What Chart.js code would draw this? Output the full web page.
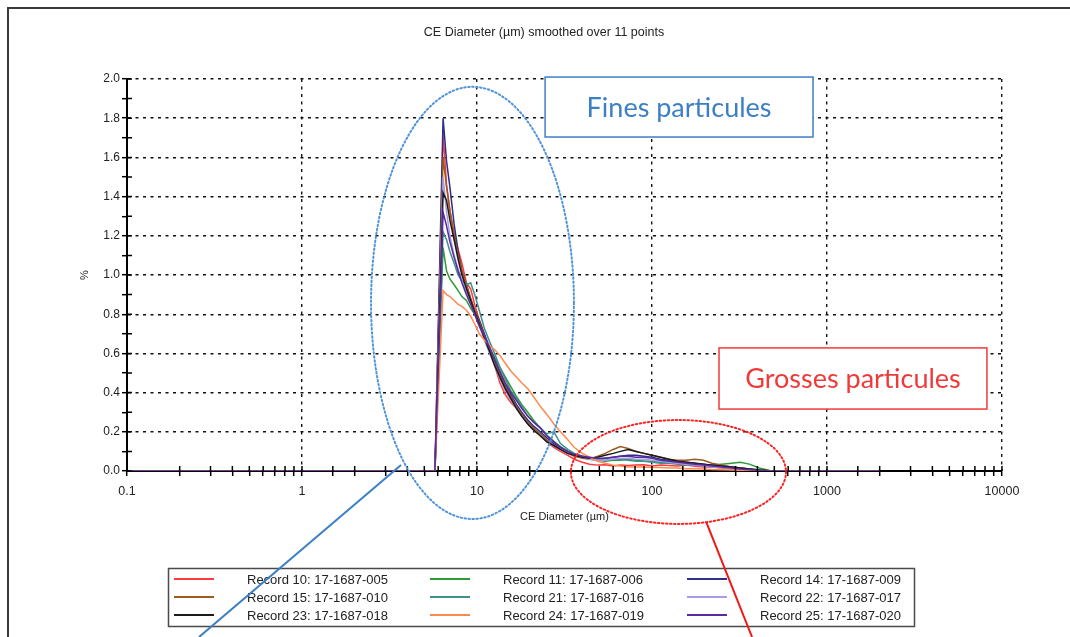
<!DOCTYPE html>
<html><head><meta charset="utf-8">
<script src="https://cdn.jsdelivr.net/npm/chart.js@4"></script>
<style>html,body{margin:0;padding:0;background:#fff}#wrap{width:1070px;height:637px;position:relative;overflow:hidden}</style>
</head><body><div id="wrap"><canvas id="c" width="1070" height="637"></canvas></div>
<script>
// CE Diameter (µm) sample points
const diameters = [0.1, 5.75, 6.4, 6.7, 7.0, 7.4, 7.8, 8.2, 8.7, 9.2, 9.7, 10.3, 11, 11.8, 12.6, 13.5, 14.5, 15.6, 16.8, 18, 19.5, 21, 23, 25, 27.5, 30, 33, 36, 40, 44, 49, 54, 60, 66, 73, 81, 90, 100, 112, 125, 140, 157, 176, 197, 220, 250, 285, 320, 360, 410, 470, 540, 2000];

const rec10 = [0,0,1.72,1.46,1.33,1.21,1.13,1.06,0.96,0.93,0.85,0.77,0.70,0.62,0.54,0.45,0.39,0.35,0.32,0.28,0.25,0.22,0.18,0.15,0.12,0.10,0.08,0.06,0.045,0.035,0.03,0.032,0.025,0.03,0.028,0.03,0.032,0.026,0.03,0.028,0.025,0.03,0.024,0.02,0.02,0.015,0.01,0.008,0.005,0.002,0,0,0];
const rec11 = [0,0,1.14,1.02,0.98,0.95,0.92,0.89,0.87,0.83,0.80,0.75,0.69,0.63,0.58,0.53,0.48,0.43,0.38,0.34,0.30,0.26,0.22,0.185,0.15,0.125,0.10,0.085,0.07,0.06,0.055,0.05,0.055,0.055,0.06,0.055,0.05,0.05,0.045,0.04,0.04,0.035,0.035,0.03,0.03,0.035,0.04,0.045,0.035,0.015,0.003,0,0];
const rec14 = [0,0,1.80,1.58,1.45,1.26,1.12,1.02,0.95,0.88,0.82,0.77,0.70,0.63,0.56,0.50,0.44,0.39,0.34,0.30,0.26,0.23,0.20,0.17,0.14,0.12,0.10,0.085,0.075,0.065,0.06,0.065,0.07,0.075,0.08,0.08,0.075,0.07,0.06,0.055,0.05,0.045,0.04,0.035,0.03,0.025,0.02,0.015,0.01,0.005,0.001,0,0];
const rec15 = [0,0,1.60,1.45,1.33,1.20,1.10,1.02,0.95,0.88,0.82,0.76,0.69,0.62,0.55,0.49,0.43,0.38,0.33,0.29,0.25,0.22,0.19,0.16,0.13,0.11,0.09,0.075,0.065,0.06,0.075,0.09,0.11,0.125,0.115,0.10,0.09,0.08,0.07,0.06,0.055,0.055,0.06,0.055,0.04,0.03,0.02,0.015,0.01,0.004,0.001,0,0];
const rec21 = [0,0,1.22,1.18,1.12,1.06,1.00,0.97,0.95,0.96,0.90,0.82,0.73,0.66,0.60,0.53,0.47,0.41,0.37,0.33,0.28,0.25,0.22,0.19,0.20,0.14,0.11,0.09,0.075,0.065,0.06,0.055,0.06,0.06,0.055,0.05,0.05,0.045,0.04,0.04,0.035,0.03,0.03,0.025,0.02,0.02,0.015,0.01,0.007,0.003,0,0,0];
const rec22 = [0,0,1.50,1.32,1.20,1.10,1.03,0.97,0.91,0.86,0.80,0.74,0.67,0.60,0.54,0.47,0.41,0.36,0.32,0.28,0.24,0.21,0.18,0.15,0.13,0.11,0.09,0.08,0.07,0.06,0.055,0.055,0.06,0.065,0.065,0.06,0.06,0.055,0.05,0.045,0.04,0.035,0.03,0.025,0.02,0.017,0.013,0.01,0.006,0.003,0,0,0];
const rec23 = [0,0,1.42,1.38,1.28,1.18,1.08,1.00,0.93,0.87,0.81,0.75,0.68,0.61,0.54,0.48,0.42,0.37,0.32,0.28,0.24,0.21,0.18,0.15,0.13,0.11,0.09,0.08,0.07,0.065,0.07,0.08,0.09,0.10,0.11,0.10,0.09,0.08,0.07,0.06,0.05,0.045,0.04,0.035,0.03,0.025,0.02,0.015,0.01,0.005,0.001,0,0];
const rec24 = [0,0,0.92,0.90,0.89,0.87,0.85,0.84,0.82,0.79,0.75,0.70,0.67,0.64,0.62,0.59,0.55,0.51,0.48,0.45,0.42,0.38,0.33,0.29,0.24,0.20,0.16,0.12,0.09,0.07,0.05,0.04,0.03,0.025,0.02,0.02,0.02,0.018,0.018,0.015,0.015,0.012,0.012,0.01,0.008,0.006,0.005,0.003,0.002,0.001,0,0,0];
const rec25 = [0,0,1.32,1.25,1.17,1.09,1.02,0.96,0.90,0.85,0.80,0.74,0.69,0.63,0.57,0.51,0.45,0.40,0.36,0.32,0.28,0.25,0.22,0.18,0.15,0.12,0.10,0.085,0.075,0.07,0.065,0.065,0.07,0.075,0.075,0.07,0.07,0.065,0.055,0.05,0.045,0.04,0.035,0.03,0.025,0.02,0.015,0.01,0.007,0.003,0,0,0];

const seriesLabels = ['Record 10: 17-1687-005','Record 11: 17-1687-006','Record 14: 17-1687-009',
                      'Record 15: 17-1687-010','Record 21: 17-1687-016','Record 22: 17-1687-017',
                      'Record 23: 17-1687-018','Record 24: 17-1687-019','Record 25: 17-1687-020'];
const seriesValues = [rec10, rec11, rec14, rec15, rec21, rec22, rec23, rec24, rec25];
const xTickLabels = ['0.1','1','10','100','1000','10000'];
const yTickLabels = ['0.0','0.2','0.4','0.6','0.8','1.0','1.2','1.4','1.6','1.8','2.0'];

// styling (kept apart from data)
const seriesColors = ['#ff3b3b','#2f9a3a','#2e2e8c','#9c5a1e','#3f8f8f','#a99be6','#1a1a1a','#ff8a4d','#5a2aa0'];

// annotations in data coordinates (µm, %)
const fineEllipse = {x0: 2.48, x1: 35.8, y0: -0.245, y1: 1.96};
const coarseEllipse = {x0: 34.4, x1: 583, y0: -0.27, y1: 0.26};
const fineBox = {x0: 24.5, x1: 832, y0: 1.704, y1: 2.01, text: 'Fines particules'};
const coarseBox = {x0: 241.5, x1: 8200, y0: 0.316, y1: 0.628, text: 'Grosses particules'};
const fineArrow = {x0: 3.68, y0: 0.031, x1: 0.258, y1: -0.847};
const coarseArrow = {x0: 204, y0: -0.26, x1: 373, y1: -0.847};

const FONT = '"Liberation Sans", Arial, sans-serif';
const isDecade = v => { const l = Math.log10(v); return Math.abs(l - Math.round(l)) < 1e-6; };
const isEvenTenth = v => Math.round(v * 10) % 2 === 0;

const datasets = seriesValues.map((vals, k) => ({
  label: seriesLabels[k],
  data: diameters.map((d, i) => ({x: d, y: vals[i]})),
  borderColor: seriesColors[k],
  backgroundColor: seriesColors[k],
  borderWidth: 1.5,
  pointRadius: 0,
  tension: 0,
  fill: false,
  order: seriesValues.length - k
}));

const framePlugin = {
  id: 'frame',
  beforeDraw(chart) {
    const ctx = chart.ctx;
    ctx.save();
    ctx.fillStyle = '#fff';
    ctx.fillRect(0, 0, chart.width, chart.height);
    ctx.strokeStyle = '#3a3a3a';
    ctx.lineWidth = 2;
    ctx.beginPath();
    ctx.moveTo(8, chart.height); ctx.lineTo(8, 8); ctx.lineTo(chart.width, 8);
    ctx.stroke();
    ctx.restore();
  }
};

const innerTicksPlugin = {
  id: 'innerTicks',
  afterDatasetsDraw(chart) {
    const {ctx, chartArea: a} = chart;
    const xs = chart.scales.x, ys = chart.scales.y;
    ctx.save();
    ctx.strokeStyle = '#000';
    ctx.lineWidth = 1.5;
    ctx.beginPath();
    xs.ticks.forEach(t => { const p = xs.getPixelForValue(t.value); ctx.moveTo(p, a.bottom); ctx.lineTo(p, a.bottom - 5); });
    ys.ticks.forEach(t => { const p = ys.getPixelForValue(t.value); ctx.moveTo(a.left, p); ctx.lineTo(a.left + 5, p); });
    ctx.stroke();
    ctx.restore();
  }
};

const legendPlugin = {
  id: 'boxLegend',
  afterDraw(chart) {
    const ctx = chart.ctx;
    const colX = [174, 430, 687], rowY = [579, 597, 615];
    ctx.save();
    ctx.strokeStyle = '#4a4a4a';
    ctx.lineWidth = 1.5;
    ctx.strokeRect(168.5, 568.5, 746, 58);
    ctx.font = '13px ' + FONT;
    ctx.textBaseline = 'middle';
    ctx.fillStyle = '#222';
    chart.data.datasets.forEach((ds, i) => {
      const x = colX[i % 3], y = rowY[Math.floor(i / 3)];
      ctx.strokeStyle = ds.borderColor;
      ctx.lineWidth = 2;
      ctx.beginPath(); ctx.moveTo(x, y); ctx.lineTo(x + 40, y); ctx.stroke();
      ctx.fillText(ds.label, x + 73, y + 1);
    });
    ctx.restore();
  }
};

const annotationPlugin = {
  id: 'notes',
  afterDraw(chart) {
    const ctx = chart.ctx;
    const xs = chart.scales.x, ys = chart.scales.y;
    const px = v => xs.getPixelForValue(v), py = v => ys.getPixelForValue(v);
    const ellipse = (e, color) => {
      const l = px(e.x0), r = px(e.x1), t = py(e.y1), b = py(e.y0);
      ctx.save();
      ctx.strokeStyle = color; ctx.lineWidth = 2; ctx.setLineDash([1.5, 2.5]); ctx.lineCap = 'round';
      ctx.beginPath();
      ctx.ellipse((l + r) / 2, (t + b) / 2, (r - l) / 2, (b - t) / 2, 0, 0, Math.PI * 2);
      ctx.stroke();
      ctx.restore();
    };
    const box = (bx, color) => {
      const l = px(bx.x0), r = px(bx.x1), t = py(bx.y1), b = py(bx.y0);
      ctx.save();
      ctx.fillStyle = '#fff';
      ctx.fillRect(l, t, r - l, b - t);
      ctx.strokeStyle = color; ctx.lineWidth = 1.5;
      ctx.strokeRect(l, t, r - l, b - t);
      ctx.fillStyle = color;
      ctx.font = '27px Lato, "Open Sans", sans-serif';
      ctx.textAlign = 'center'; ctx.textBaseline = 'middle';
      ctx.fillText(bx.text, (l + r) / 2, (t + b) / 2 + 1);
      ctx.restore();
    };
    const arrow = (ln, color) => {
      ctx.save();
      ctx.strokeStyle = color; ctx.lineWidth = 2;
      ctx.beginPath(); ctx.moveTo(px(ln.x0), py(ln.y0)); ctx.lineTo(px(ln.x1), py(ln.y1)); ctx.stroke();
      ctx.restore();
    };
    box(fineBox, '#3d7fc6');
    box(coarseBox, '#f03a3a');
    ellipse(fineEllipse, '#4f93d8');
    ellipse(coarseEllipse, '#f22');
    arrow(fineArrow, '#3b7fc4');
    arrow(coarseArrow, '#f01818');
  }
};

new Chart(document.getElementById('c'), {
  type: 'line',
  data: {datasets},
  plugins: [framePlugin, innerTicksPlugin, legendPlugin, annotationPlugin],
  options: {
    responsive: false,
    animation: false,
    parsing: true,
    layout: {padding: {left: 18, right: 0, top: 0, bottom: 0}},
    plugins: {
      legend: {display: false},
      tooltip: {enabled: false},
      title: {
        display: true,
        text: 'CE Diameter (µm) smoothed over 11 points',
        color: '#222',
        font: {family: FONT, size: 12.5, weight: 'normal'},
        padding: {top: 25.5, bottom: 38.5}
      }
    },
    scales: {
      x: {
        type: 'logarithmic',
        min: 0.1, max: 10000,
        afterFit: s => { s.height = 166; },
        border: {display: true, color: '#000', width: 2, dash: [3, 4.5]},
        grid: {
          color: c => (c.tick && isDecade(c.tick.value)) ? '#111' : 'rgba(0,0,0,0)',
          lineWidth: 1.4,
          tickColor: '#000', tickWidth: 1.5, tickLength: 5, drawTicks: true
        },
        ticks: {
          autoSkip: false, maxRotation: 0, padding: 8, color: '#222',
          font: {family: FONT, size: 12.5},
          callback: v => isDecade(v) ? xTickLabels[Math.round(Math.log10(v)) + 1] : ''
        },
        title: {display: true, text: 'CE Diameter (µm)', color: '#222',
                font: {family: FONT, size: 11}, padding: {top: 0, bottom: 113.4}}
      },
      y: {
        type: 'linear',
        min: 0, max: 2,
        afterFit: s => { s.width = 109; },
        border: {display: true, color: '#000', width: 2, dash: [3, 4.5]},
        grid: {
          color: c => (c.tick && isEvenTenth(c.tick.value)) ? '#111' : 'rgba(0,0,0,0)',
          lineWidth: 1.4,
          tickColor: '#000', tickWidth: 1.5, tickLength: 5, drawTicks: true
        },
        ticks: {
          stepSize: 0.1, autoSkip: false, padding: 2, color: '#222',
          font: {family: FONT, size: 12},
          callback: v => isEvenTenth(v) ? yTickLabels[Math.round(v * 5)] : ''
        },
        title: {display: true, text: '%', color: '#222',
                font: {family: FONT, size: 11}, padding: {top: 60.4, bottom: 0}}
      },
      yR: {
        type: 'linear', position: 'right', display: true,
        afterFit: s => { s.width = 68; },
        grid: {display: false, drawTicks: false},
        ticks: {display: false},
        border: {display: false}
      }
    }
  }
});
</script>
</body></html>
